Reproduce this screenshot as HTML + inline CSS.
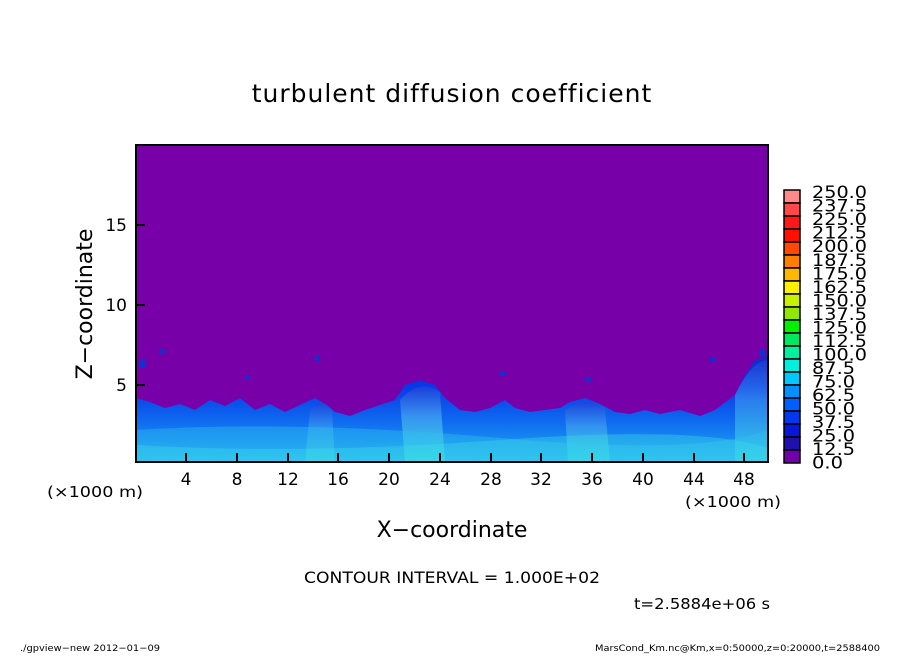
<!DOCTYPE html>
<html><head><style>
body{margin:0;background:#fff;}
svg text{font-family:"DejaVu Sans","Liberation Sans",sans-serif;fill:#000;}
</style></head><body>
<svg width="904" height="654" viewBox="0 0 904 654" xmlns="http://www.w3.org/2000/svg">
<defs>
<linearGradient id="band" x1="0" y1="0" x2="0" y2="1">
<stop offset="0" stop-color="#1828c0"/>
<stop offset="0.3" stop-color="#0838e8"/>
<stop offset="0.65" stop-color="#1070f0"/>
<stop offset="1" stop-color="#20b0f0"/>
</linearGradient>
<linearGradient id="plume" x1="0" y1="0" x2="0" y2="1">
<stop offset="0" stop-color="#2040d8"/>
<stop offset="0.4" stop-color="#40a0f0"/>
<stop offset="1" stop-color="#40e8e0"/>
</linearGradient>
</defs>
<text x="452" y="102" font-size="25" text-anchor="middle" letter-spacing="1">turbulent diffusion coefficient</text>
<rect x="136" y="145" width="632" height="317" fill="#7800a8"/>
<path d="M136,398 L150,402 165,408 180,404 195,410 210,400 225,406 240,398 255,410 270,404 285,412 300,405 315,398 325,404 335,412 350,416 365,410 380,405 395,400 405,385 420,380 435,385 445,398 460,410 475,412 490,408 505,400 515,408 530,412 545,410 560,408 570,402 585,398 600,404 615,412 630,414 645,410 660,414 680,410 700,416 715,410 735,395 745,375 755,360 768,355 L768,462 L136,462 Z" fill="url(#band)"/>
<path d="M400,400 Q420,378 440,392 L445,462 L405,462 Z" fill="url(#plume)" opacity="0.8"/>
<path d="M565,410 Q585,395 605,408 L610,462 L568,462 Z" fill="url(#plume)" opacity="0.7"/>
<path d="M310,410 Q322,396 332,410 L335,462 L305,462 Z" fill="url(#plume)" opacity="0.6"/>
<path d="M735,395 Q752,360 768,360 L768,462 L735,462 Z" fill="url(#plume)" opacity="0.6"/>
<path d="M136,430 Q300,420 500,438 T768,430 L768,462 L136,462 Z" fill="#30c0f0" opacity="0.4"/>
<path d="M136,445 Q300,455 500,440 T768,448 L768,462 L136,462 Z" fill="#40e0e8" opacity="0.35"/>
<g fill="#1030d0">
<rect x="160" y="350" width="5" height="4"/><rect x="245" y="375" width="5" height="5"/><rect x="315" y="355" width="4" height="6"/><rect x="500" y="372" width="5" height="4"/><rect x="585" y="378" width="6" height="4"/><rect x="710" y="358" width="5" height="4"/><rect x="140" y="360" width="6" height="8"/><rect x="760" y="350" width="5" height="6"/>
</g>
<rect x="136" y="145" width="632" height="317" fill="none" stroke="#000" stroke-width="2"/>
<g stroke="#000" stroke-width="2">
<line x1="186" y1="462" x2="186" y2="453"/><line x1="237" y1="462" x2="237" y2="453"/><line x1="288" y1="462" x2="288" y2="453"/><line x1="338" y1="462" x2="338" y2="453"/><line x1="389" y1="462" x2="389" y2="453"/><line x1="440" y1="462" x2="440" y2="453"/><line x1="491" y1="462" x2="491" y2="453"/><line x1="541" y1="462" x2="541" y2="453"/><line x1="592" y1="462" x2="592" y2="453"/><line x1="643" y1="462" x2="643" y2="453"/><line x1="694" y1="462" x2="694" y2="453"/><line x1="744" y1="462" x2="744" y2="453"/>
<line x1="136" y1="225" x2="145" y2="225"/><line x1="136" y1="305" x2="145" y2="305"/><line x1="136" y1="385" x2="145" y2="385"/>
</g>
<text font-size="17" text-anchor="middle">
<tspan x="186" y="485">4</tspan><tspan x="237" y="485">8</tspan><tspan x="288" y="485">12</tspan><tspan x="338" y="485">16</tspan><tspan x="389" y="485">20</tspan><tspan x="440" y="485">24</tspan><tspan x="491" y="485">28</tspan><tspan x="541" y="485">32</tspan><tspan x="592" y="485">36</tspan><tspan x="643" y="485">40</tspan><tspan x="694" y="485">44</tspan><tspan x="744" y="485">48</tspan>
</text>
<text font-size="17" text-anchor="end"><tspan x="127" y="231">15</tspan><tspan x="127" y="311">10</tspan><tspan x="127" y="391">5</tspan></text>
<text x="47" y="497" font-size="15" textLength="96" lengthAdjust="spacingAndGlyphs">(×1000 m)</text>
<text x="685" y="507" font-size="15" textLength="96" lengthAdjust="spacingAndGlyphs">(×1000 m)</text>
<text x="452" y="537" font-size="22" text-anchor="middle">X−coordinate</text>
<text x="92" y="304" font-size="22" text-anchor="middle" transform="rotate(-90 92 304)">Z−coordinate</text>
<text x="304" y="583" font-size="16" textLength="296" lengthAdjust="spacingAndGlyphs">CONTOUR INTERVAL = 1.000E+02</text>
<text x="634" y="609" font-size="15" textLength="136" lengthAdjust="spacingAndGlyphs">t=2.5884e+06 s</text>
<text x="20" y="651" font-size="9" textLength="140" lengthAdjust="spacingAndGlyphs">./gpview−new   2012−01−09</text>
<text x="595" y="651" font-size="9" textLength="285" lengthAdjust="spacingAndGlyphs">MarsCond_Km.nc@Km,x=0:50000,z=0:20000,t=2588400</text>
<g stroke="#000" stroke-width="1.5">
<rect x="784" y="190" width="16" height="13" fill="#ff8888"/>
<rect x="784" y="203" width="16" height="13" fill="#ff4848"/>
<rect x="784" y="216" width="16" height="13" fill="#ff1818"/>
<rect x="784" y="229" width="16" height="13" fill="#ff1000"/>
<rect x="784" y="242" width="16" height="13" fill="#ff4800"/>
<rect x="784" y="255" width="16" height="13" fill="#ff8000"/>
<rect x="784" y="268" width="16" height="13" fill="#ffb800"/>
<rect x="784" y="281" width="16" height="13" fill="#fff000"/>
<rect x="784" y="294" width="16" height="13" fill="#c8f000"/>
<rect x="784" y="307" width="16" height="13" fill="#90e800"/>
<rect x="784" y="320" width="16" height="13" fill="#00f000"/>
<rect x="784" y="333" width="16" height="13" fill="#00e860"/>
<rect x="784" y="346" width="16" height="13" fill="#00f0a0"/>
<rect x="784" y="359" width="16" height="13" fill="#00f0e0"/>
<rect x="784" y="372" width="16" height="13" fill="#00c8ff"/>
<rect x="784" y="385" width="16" height="13" fill="#0090ff"/>
<rect x="784" y="398" width="16" height="13" fill="#0060ff"/>
<rect x="784" y="411" width="16" height="13" fill="#0038f0"/>
<rect x="784" y="424" width="16" height="13" fill="#0818d8"/>
<rect x="784" y="437" width="16" height="13" fill="#2010b0"/>
<rect x="784" y="450" width="16" height="13" fill="#7000a8"/>
</g>
<g font-size="17">
<text x="812" y="198" textLength="55" lengthAdjust="spacingAndGlyphs">250.0</text><text x="812" y="211.5" textLength="55" lengthAdjust="spacingAndGlyphs">237.5</text><text x="812" y="225" textLength="55" lengthAdjust="spacingAndGlyphs">225.0</text><text x="812" y="238.5" textLength="55" lengthAdjust="spacingAndGlyphs">212.5</text><text x="812" y="252" textLength="55" lengthAdjust="spacingAndGlyphs">200.0</text><text x="812" y="266" textLength="55" lengthAdjust="spacingAndGlyphs">187.5</text><text x="812" y="279.5" textLength="55" lengthAdjust="spacingAndGlyphs">175.0</text><text x="812" y="293" textLength="55" lengthAdjust="spacingAndGlyphs">162.5</text><text x="812" y="306.5" textLength="55" lengthAdjust="spacingAndGlyphs">150.0</text><text x="812" y="320" textLength="55" lengthAdjust="spacingAndGlyphs">137.5</text><text x="812" y="333.5" textLength="55" lengthAdjust="spacingAndGlyphs">125.0</text><text x="812" y="347" textLength="55" lengthAdjust="spacingAndGlyphs">112.5</text><text x="812" y="360.5" textLength="55" lengthAdjust="spacingAndGlyphs">100.0</text><text x="812" y="374" textLength="43" lengthAdjust="spacingAndGlyphs">87.5</text><text x="812" y="387.5" textLength="43" lengthAdjust="spacingAndGlyphs">75.0</text><text x="812" y="401" textLength="43" lengthAdjust="spacingAndGlyphs">62.5</text><text x="812" y="414.5" textLength="43" lengthAdjust="spacingAndGlyphs">50.0</text><text x="812" y="428" textLength="43" lengthAdjust="spacingAndGlyphs">37.5</text><text x="812" y="441.5" textLength="43" lengthAdjust="spacingAndGlyphs">25.0</text><text x="812" y="455" textLength="43" lengthAdjust="spacingAndGlyphs">12.5</text><text x="812" y="468.5" textLength="31" lengthAdjust="spacingAndGlyphs">0.0</text>
</g>
</svg>
</body></html>
